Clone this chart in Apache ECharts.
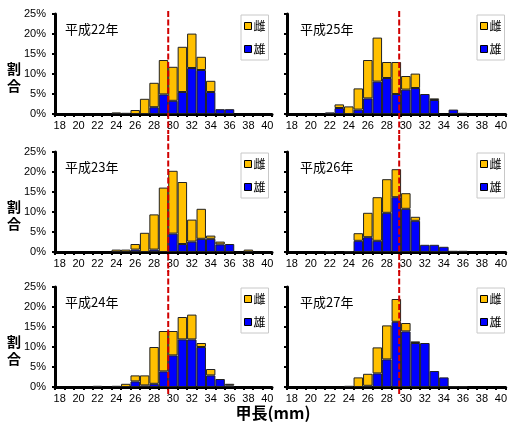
<!DOCTYPE html>
<html>
<head>
<meta charset="utf-8">
<script src="https://cdn.jsdelivr.net/npm/echarts@6/dist/echarts.min.js"></script>
<style>html,body{margin:0;padding:0;background:#fff}#c{width:510px;height:423px}</style>
</head>
<body>
<div id="c"></div>
<script>
// Categories: carapace length (mm)
const categories = ['18','19','20','21','22','23','24','25','26','27','28','29','30','31','32','33','34','35','36','37','38','39','40'];
const yTicks = [0, 5, 10, 15, 20, 25];
const panelTitles = ['平成22年','平成23年','平成24年','平成25年','平成26年','平成27年'];
// Female (雌) and male (雄) shares, % (index 0 = 18mm)
const male22   = [0,0,0,0,0,0,0,0,0,0,1.7,4.9,3.3,5.5,11.5,11.0,5.5,1.2,1.2,0,0,0,0];
const female22 = [0,0,0,0,0,0,0.4,0.3,1.0,3.8,6.1,8.6,8.5,11.3,8.6,3.3,2.8,0,0,0,0,0,0];
const male23   = [0,0,0,0,0,0,0,0,0.6,0,0.6,0,4.6,2.0,2.6,3.3,3.3,1.9,2.0,0,0,0,0];
const female23 = [0,0,0,0,0,0,0.6,0.6,1.4,4.8,8.8,16.1,15.7,15.5,5.5,7.5,0.8,0.7,0,0,0.6,0,0];
const male24   = [0,0,0,0,0.3,0,0.3,0,1.4,0.4,0.8,3.9,7.9,11.9,11.9,10.0,2.9,2.0,0.4,0,0,0,0];
const female24 = [0,0,0,0,0,0,0,0.8,1.5,2.5,9.2,10.1,6.1,5.6,6.2,1.0,1.6,0,0.4,0,0,0,0];
const male25   = [0,0,0,0,0.4,1.5,0,1.1,3.9,8.1,9.0,5.0,6.1,6.5,5.0,3.5,0,1.1,0.3,0,0,0,0];
const female25 = [0,0,0,0,0,0.9,1.9,5.3,9.6,11.0,4.0,8.0,3.4,3.6,0,0.4,0,0,0,0,0,0,0];
const male26   = [0,0,0,0,0.2,0,0.2,2.8,3.7,2.8,9.8,13.7,10.8,7.8,1.8,1.8,1.3,0.3,0.3,0,0,0,0];
const female26 = [0,0,0,0,0,0,0,1.9,6.1,10.9,8.4,7.0,3.9,1.0,0,0,0,0,0,0,0,0,0];
const male27   = [0,0,0,0,0,0,0.3,0,0.3,3.4,6.9,16.3,13.9,11.0,11.0,4.0,2.4,0.2,0.2,0,0,0,0];
const female27 = [0,0,0,0,0,0,0,2.4,3.0,6.5,8.5,5.7,2.1,0.4,0,0,0,0,0,0,0,0,0];
// reference line position (mm) per column
const refLineLeft = 29.5;
const refLineRight = 29.3;

const maleData = [male22, male23, male24, male25, male26, male27];
const femaleData = [female22, female23, female24, female25, female26, female27];

const FEMALE = '#FFC000', MALE = '#0000FF';
const numFont = 'Liberation Sans';
const cjkFont = 'Noto Sans CJK JP';

const colLeft = [55, 287];
const colWidth = [217, 220];
const rowTop = [14, 152, 287];
const gridH = 100;

const grids = [], xAxes = [], yAxes = [], series = [], titles = [], legends = [], graphics = [];

for (let p = 0; p < 6; p++) {
  const col = p < 3 ? 0 : 1;
  const row = p % 3;
  const left = colLeft[col], top = rowTop[row];
  grids.push({left: left, top: top, width: colWidth[col], height: gridH, containLabel: false});
  xAxes.push({
    type: 'category', gridIndex: p, data: categories, boundaryGap: true,
    axisLine: {lineStyle: {color: '#000', width: 3}},
    axisTick: {show: true, interval: 0, length: 3, lineStyle: {color: '#000', width: 2}},
    axisLabel: {interval: 1, margin: 6, color: '#000', fontSize: 11, fontFamily: numFont},
    splitLine: {show: false}
  });
  yAxes.push({
    type: 'value', gridIndex: p, min: yTicks[0], max: yTicks[yTicks.length - 1], interval: 5,
    axisLine: {show: true, lineStyle: {color: '#000', width: 3}},
    axisTick: {show: true, length: 3, lineStyle: {color: '#000', width: 2}},
    axisLabel: {show: col === 0, formatter: '{value}%', margin: 9, color: '#000', fontSize: 11, fontFamily: numFont},
    splitLine: {show: false}
  });
  const toSeries = arr => arr.map(v => v > 0 ? v : null);
  series.push({
    name: '雄', type: 'bar', xAxisIndex: p, yAxisIndex: p, stack: 's' + p,
    data: toSeries(maleData[p]), barCategoryGap: '0%',
    itemStyle: {color: MALE, borderColor: '#222', borderWidth: 1}
  });
  series.push({
    name: '雌', type: 'bar', xAxisIndex: p, yAxisIndex: p, stack: 's' + p,
    data: toSeries(femaleData[p]), barCategoryGap: '0%',
    itemStyle: {color: FEMALE, borderColor: '#222', borderWidth: 1}
  });
  const ref = col === 0 ? refLineLeft : refLineRight;
  const refIdx = categories.indexOf(String(Math.floor(ref)));
  const frac = ref - Math.floor(ref);
  series.push({
    type: 'custom', xAxisIndex: p, yAxisIndex: p, clip: false, z: 10, silent: true,
    data: [[refIdx, 0]],
    renderItem: (function (frac, row) {
      return function (params, api) {
        const cs = params.coordSys;
        const c = api.coord([api.value(0), 0]);
        const bw = api.size([1, 0])[0];
        const x = c[0] + frac * bw;
        const y1 = row === 0 ? cs.y - 3 : cs.y - 17;
        const y2 = row === 2 ? cs.y + cs.height + 7 : cs.y + cs.height + 20;
        return {type: 'line', shape: {x1: x, y1: y1, x2: x, y2: y2},
          style: {stroke: '#D00000', lineWidth: 2, lineDash: [6, 2.5]}};
      };
    })(frac, row)
  });
  titles.push({
    text: panelTitles[p], left: left + (col === 0 ? 10 : 13), top: top + 9, padding: 0,
    textStyle: {fontSize: 13, fontWeight: 'normal', color: '#000', fontFamily: cjkFont}
  });
  legends.push({
    data: ['雌', '雄'], orient: 'vertical', icon: 'rect',
    left: col === 0 ? 241 : 477, top: top + 1,
    itemWidth: 7, itemHeight: 7, itemGap: 11,
    padding: [5, 3, 5, 3],
    itemStyle: {borderColor: '#000', borderWidth: 1},
    backgroundColor: '#fff', borderColor: '#c8c8c8', borderWidth: 1, borderRadius: 0,
    textStyle: {fontSize: 12, color: '#000', fontFamily: cjkFont, padding: [0, 0, 0, -3]},
    selectedMode: false
  });
  if (col === 0) {
    graphics.push({
      type: 'text', left: 7, top: top + 46,
      style: {text: '割\n合', font: 'bold 14px "Noto Sans CJK JP"', lineHeight: 17, fill: '#000', textAlign: 'left'}
    });
  }
}

graphics.push({
  type: 'text', x: 273, y: 413,
  style: {text: '甲長(mm)', font: 'bold 16px "Noto Sans CJK JP"', fill: '#000', textAlign: 'center', textVerticalAlign: 'middle'}
});

const chart = echarts.init(document.getElementById('c'), null, {renderer: 'canvas'});
chart.setOption({
  animation: false,
  backgroundColor: '#fff',
  grid: grids, xAxis: xAxes, yAxis: yAxes, series: series,
  title: titles, legend: legends, graphic: graphics
});
</script>
</body>
</html>
